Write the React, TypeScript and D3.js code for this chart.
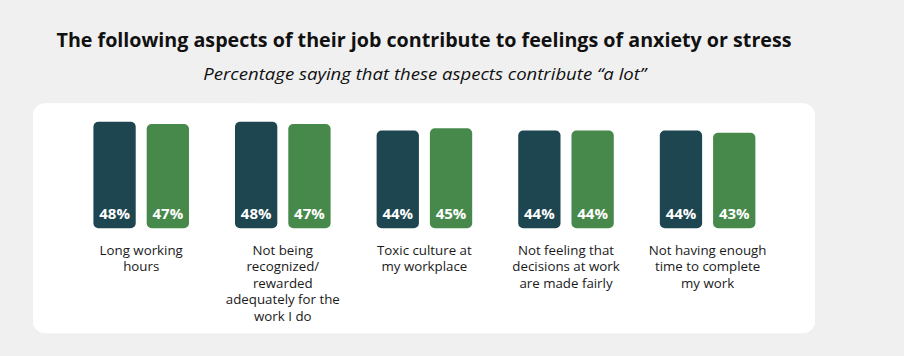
import React from "react";
import * as d3 from "d3";

const categories: string[][] = [
  ["Long working", "hours"],
  ["Not being", "recognized/", "rewarded", "adequately for the", "work I do"],
  ["Toxic culture at", "my workplace"],
  ["Not feeling that", "decisions at work", "are made fairly"],
  ["Not having enough", "time to complete", "my work"],
];
const seriesA = [48, 48, 44, 44, 44];
const seriesB = [47, 47, 45, 44, 43];
const colors = ["#1d4650", "#47894b"];
const title = "The following aspects of their job contribute to feelings of anxiety or stress";
const subtitle = "Percentage saying that these aspects contribute \u201ca lot\u201d";

export default function App() {
  const W = 904, H = 356;
  const x0 = d3.scaleBand<number>().domain(d3.range(categories.length)).range([70.4, 778.4]).paddingInner(0).paddingOuter(0);
  const x1 = d3.scaleBand<number>().domain([0, 1]).range([0, x0.bandwidth()]).paddingInner(0.206).paddingOuter(0.432);
  const y = d3.scaleLinear().domain([0, 48]).range([228.3, 121.7]);
  const font = "'Open Sans', sans-serif";
  return (
    <div style={{ position: "absolute", left: 0, top: 0, width: W, height: H }}>
      <svg width={W} height={H} style={{ display: "block" }}>
        <rect x={0} y={0} width={W} height={H} fill="#f0f0f0" />
        <text x={56.5} y={47.3} fontFamily={font} fontWeight={700} fontSize={19.5} fill="#111" textLength={735} lengthAdjust="spacingAndGlyphs">{title}</text>
        <text x={203.3} y={80} fontFamily={font} fontStyle="italic" fontSize={16} fill="#111" textLength={443} lengthAdjust="spacingAndGlyphs">{subtitle}</text>
        <rect x={33} y={103.3} width={782} height={230} rx={12} ry={12} fill="#ffffff" />
        {categories.map((cat, i) => {
          const gx = x0(i)!;
          const vals = [seriesA[i], seriesB[i]];
          return (
            <g key={i}>
              {vals.map((v, j) => {
                const bx = gx + x1(j)!;
                const bw = x1.bandwidth();
                return (
                  <g key={j}>
                    <rect x={bx} y={y(v)} width={bw} height={y(0) - y(v)} rx={5} ry={5} fill={colors[j]} />
                    <text x={bx + bw / 2} y={218.5} textAnchor="middle" fontFamily={font} fontWeight={700} fontSize={15} fill="#ffffff">{v}%</text>
                  </g>
                );
              })}
              {cat.map((line, k) => (
                <text key={k} x={gx + x0.bandwidth() / 2} y={254.5 + k * 16.6} textAnchor="middle" fontFamily={font} fontSize={13.3} fill="#1a1a1a">{line}</text>
              ))}
            </g>
          );
        })}
      </svg>
    </div>
  );
}
